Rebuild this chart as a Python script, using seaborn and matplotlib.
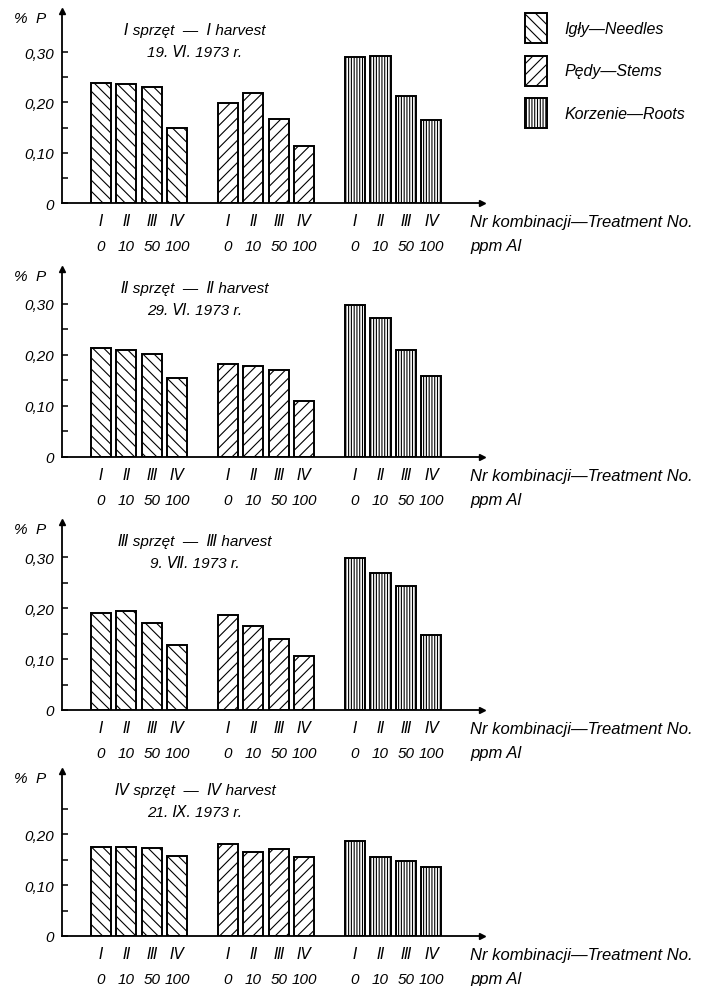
import matplotlib
matplotlib.use("Agg")
import matplotlib.pyplot as plt
import seaborn as sns
import pandas as pd
from matplotlib.patches import Patch
from matplotlib.ticker import FuncFormatter

# ---------------- data ----------------
treatments = ["Ⅰ", "Ⅱ", "Ⅲ", "Ⅳ"]
ppm_al = ["0", "10", "50", "100"]
parts = ["Igły—Needles", "Pędy—Stems", "Korzenie—Roots"]
harvest_titles = ["Ⅰ sprzęt  —  Ⅰ harvest", "Ⅱ sprzęt  —  Ⅱ harvest",
                  "Ⅲ sprzęt  —  Ⅲ harvest", "Ⅳ sprzęt  —  Ⅳ harvest"]
harvest_dates = ["19. Ⅵ. 1973 r.", "29. Ⅵ. 1973 r.", "9. Ⅶ. 1973 r.", "21. Ⅸ. 1973 r."]

# % P per harvest (rows) and treatment I..IV (columns)
needles = [[0.239, 0.236, 0.231, 0.150],
           [0.214, 0.209, 0.202, 0.154],
           [0.191, 0.195, 0.171, 0.128],
           [0.175, 0.175, 0.174, 0.157]]
stems = [[0.199, 0.219, 0.168, 0.113],
         [0.182, 0.179, 0.171, 0.110],
         [0.187, 0.165, 0.139, 0.106],
         [0.181, 0.166, 0.172, 0.155]]
roots = [[0.290, 0.293, 0.213, 0.165],
         [0.298, 0.273, 0.209, 0.159],
         [0.299, 0.269, 0.243, 0.147],
         [0.187, 0.156, 0.147, 0.136]]

# ---------------- style ----------------
sns.set_style("white")
plt.rcParams["font.family"] = ["Liberation Sans", "DejaVu Sans"]
plt.rcParams["font.style"] = "italic"
plt.rcParams["hatch.linewidth"] = 0.8
plt.rcParams["hatch.color"] = "black"
for k in ["text.color", "axes.labelcolor", "xtick.color", "ytick.color", "axes.edgecolor"]:
    plt.rcParams[k] = "black"

FS = 11
hatches = ["\\\\\\", "///", "||||||"]
W, H = 701, 987
fig = plt.figure(figsize=(W / 100, H / 100), dpi=100)
fig.patch.set_facecolor("white")

# panel geometry in pixels (zero line, top of y axis) and y-limit tops
zero_px = [204, 458, 711, 937]
top_px = [12, 270, 523, 772]
ytops = [0.382, 0.368, 0.369, 0.325]
left_px, right_px = 62, 482
GAP = 5          # bar slots between groups
xlim = (-1.53, 15.0)

for h in range(4):
    ax = fig.add_axes([left_px / W, 1 - zero_px[h] / H,
                       (right_px - left_px) / W, (zero_px[h] - top_px[h]) / H])
    ax.set_facecolor("none")
    series = [needles[h], stems[h], roots[h]]
    rows = []
    for g, (pname, vals) in enumerate(zip(parts, series)):
        for t, v in enumerate(vals):
            rows.append({"part": pname, "treat": treatments[t], "ppm": ppm_al[t],
                         "pos": g * GAP + t, "value": v})
    df = pd.DataFrame(rows)

    for g, pname in enumerate(parts):
        sub = df[df["part"] == pname]
        n0 = len(ax.patches)
        sns.barplot(data=sub, x="pos", y="value", native_scale=True, width=0.8,
                    color="white", saturation=1, edgecolor="black", linewidth=1.4,
                    errorbar=None, ax=ax)
        for p in ax.patches[n0:]:
            p.set_hatch(hatches[g])
            p.set_facecolor("white")
            p.set_edgecolor("black")

    ax.set_xlim(*xlim)
    ax.set_ylim(0, ytops[h])
    ax.set_xlabel("")
    ax.set_ylabel("")
    for s in ["top", "right"]:
        ax.spines[s].set_visible(False)
    for s in ["left", "bottom"]:
        ax.spines[s].set_linewidth(1.3)
        ax.spines[s].set_color("black")

    # axis arrows
    ax.plot(1, 0, ">", color="black", ms=5, transform=ax.transAxes, clip_on=False)
    ax.plot(0, 1, "^", color="black", ms=5, transform=ax.transAxes, clip_on=False)

    # y ticks
    if h < 3:
        major = [0, 0.1, 0.2, 0.3]
    else:
        major = [0, 0.1, 0.2]
    minor = [0.05, 0.15, 0.25]
    ax.set_yticks(major)
    ax.set_yticks(minor, minor=True)
    ax.yaxis.set_major_formatter(FuncFormatter(
        lambda v, _: "0" if abs(v) < 1e-9 else f"{v:.2f}".replace(".", ",")))
    ax.tick_params(axis="y", which="both", direction="in", length=4.5, width=1.1,
                   labelsize=FS, pad=6, left=True, color="black", labelcolor="black")

    # x tick labels: roman numerals, then ppm row
    ax.set_xticks(df["pos"].tolist(), labels=df["treat"].tolist())
    ax.tick_params(axis="x", length=0, labelsize=FS, pad=8, labelcolor="black")
    for _, r in df.iterrows():
        ax.annotate(r["ppm"], xy=(r["pos"], 0), xycoords=("data", "axes fraction"),
                    xytext=(0, -43), textcoords="offset pixels", ha="center",
                    va="center", fontsize=FS, annotation_clip=False)

    # right-hand axis description
    ax.annotate("Nr kombinacji—Treatment No.", xy=(1, 0), xycoords="axes fraction",
                xytext=(-12, -19), textcoords="offset pixels", ha="left", va="center",
                fontsize=12, annotation_clip=False)
    ax.annotate("ppm Al", xy=(1, 0), xycoords="axes fraction",
                xytext=(-12, -43), textcoords="offset pixels", ha="left", va="center",
                fontsize=12, annotation_clip=False)

    # y label
    ax.annotate("%  P", xy=(0, 1), xycoords="axes fraction", xytext=(-16, -7),
                textcoords="offset pixels", ha="right", va="center", fontsize=FS,
                annotation_clip=False)

    # titles
    tx = (195 - left_px) / (right_px - left_px)
    ax.annotate(harvest_titles[h], xy=(tx, 1), xycoords="axes fraction",
                xytext=(0, -19), textcoords="offset pixels", ha="center", va="center",
                fontsize=FS, annotation_clip=False)
    ax.annotate(harvest_dates[h], xy=(tx, 1), xycoords="axes fraction",
                xytext=(0, -41), textcoords="offset pixels", ha="center", va="center",
                fontsize=FS, annotation_clip=False)

# legend
handles = [Patch(facecolor="white", edgecolor="black", hatch=hh, linewidth=1.4)
           for hh in hatches]
fig.legend(handles=handles, labels=parts, loc="upper left",
           bbox_to_anchor=(525 / W, 1 - 14 / H), frameon=False,
           handlelength=1.37, handleheight=2.5, labelspacing=0.8,
           handletextpad=1.1, borderpad=0, borderaxespad=0,
           prop={"style": "italic", "size": 11.5})

fig.savefig("out.png", dpi=100)
